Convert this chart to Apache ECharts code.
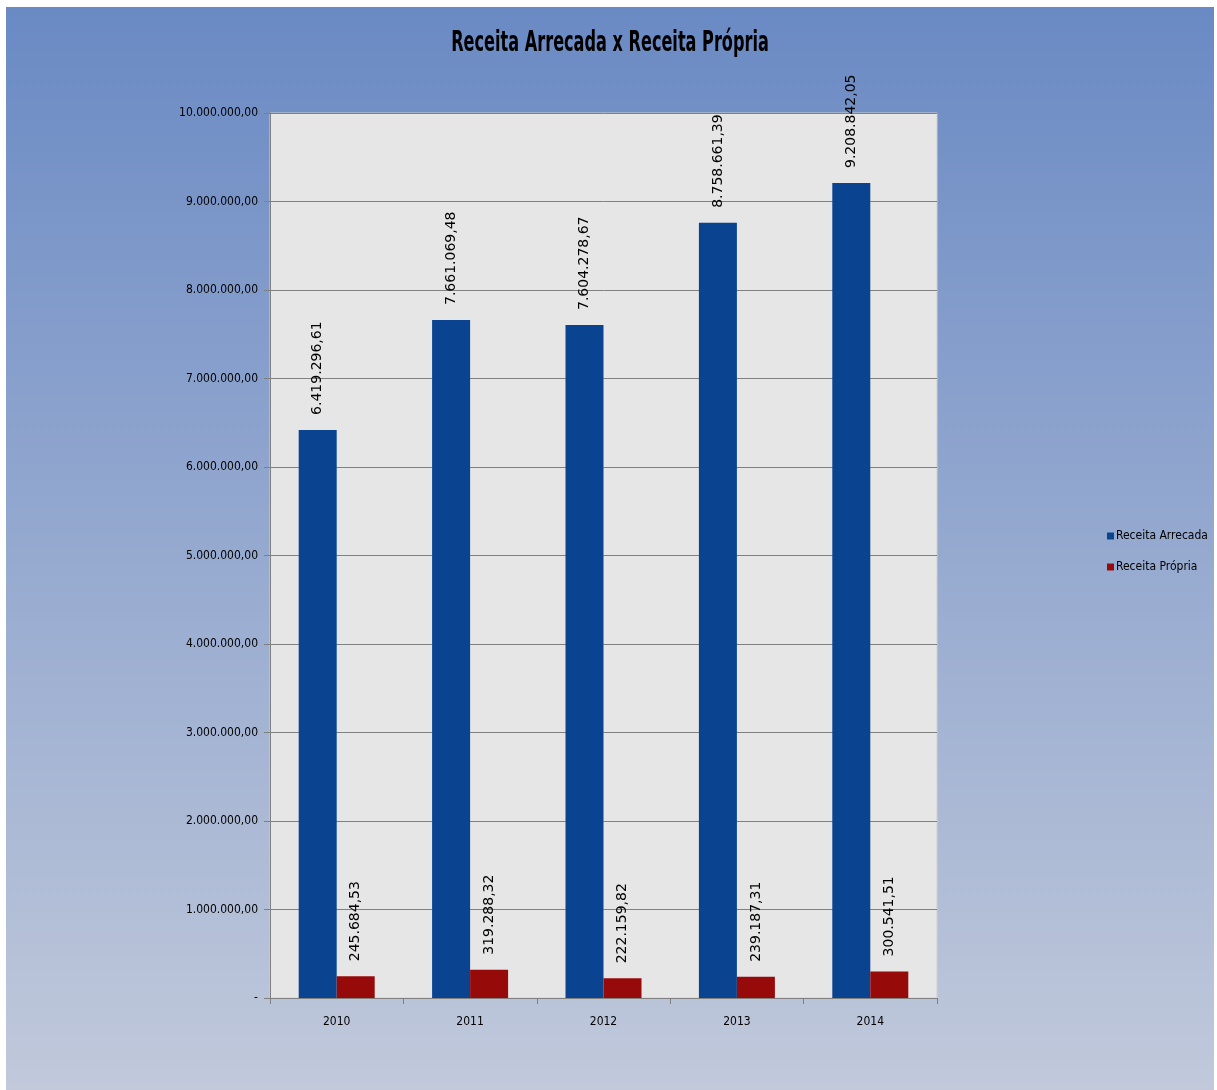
<!DOCTYPE html>
<html>
<head>
<meta charset="utf-8">
<script src="https://cdn.jsdelivr.net/npm/echarts@6/dist/echarts.min.js"></script>
<style>
    body { margin: 0; background: #ffffff; }
    #chart {
        position: absolute;
        left: 6px;
        top: 7px;
        width: 1208px;
        height: 1083px;
    }
</style>
</head>
<body>
<div id="chart"></div>
<script>
    // dados
    var titulo = 'Receita Arrecada x Receita Própria';
    var anos = ['2010', '2011', '2012', '2013', '2014'];
    var receitaArrecada = [6419296.61, 7661069.48, 7604278.67, 8758661.39, 9208842.05];
    var receitaPropria = [245684.53, 319288.32, 222159.82, 239187.31, 300541.51];
    var yMin = 0, yMax = 10000000, yStep = 1000000;

    var fonteNarrow = '"DejaVu Sans Condensed", "Liberation Sans Narrow", sans-serif';

    function formatBR(v) {
        var parts = Number(v).toFixed(2).split('.');
        parts[0] = parts[0].replace(/\B(?=(\d{3})+(?!\d))/g, '.');
        return parts[0] + ',' + parts[1];
    }

    var chart = echarts.init(document.getElementById('chart'));

    var rotulo = {
        show: true,
        position: 'top',
        rotate: 90,
        align: 'left',
        verticalAlign: 'middle',
        distance: 15,
        fontFamily: '"DejaVu Sans", Verdana, sans-serif',
        fontSize: 14,
        color: '#000000',
        formatter: function (p) { return formatBR(p.value); }
    };

    var option = {
        backgroundColor: new echarts.graphic.LinearGradient(0, 0, 0, 1, [
            { offset: 0, color: '#6a8ac4' },
            { offset: 1, color: '#c1c9db' }
        ]),
        // título estreito (fonte condensada, como no original)
        graphic: [{
            type: 'text',
            x: 604,
            y: 37,
            scaleX: 0.64,
            style: {
                text: titulo,
                fontFamily: fonteNarrow,
                fontSize: 28,
                fontWeight: 'bold',
                fill: '#000000',
                textAlign: 'center',
                textVerticalAlign: 'middle'
            }
        }],
        legend: {
            orient: 'vertical',
            left: 1096,
            top: 518,
            itemWidth: 7,
            itemHeight: 7,
            itemGap: 19,
            icon: 'rect',
            textStyle: {
                fontFamily: fonteNarrow,
                fontSize: 12,
                color: '#000000',
                padding: [0, 0, 0, -3]
            }
        },
        grid: {
            left: 264,
            right: 277,
            top: 106,
            bottom: 92,
            show: true,
            backgroundColor: '#e6e6e6',
            borderColor: '#d0d0d0',
            borderWidth: 1
        },
        xAxis: {
            type: 'category',
            data: anos,
            axisLine: { lineStyle: { color: '#808080', width: 1 } },
            axisTick: { show: true, length: 6, lineStyle: { color: '#808080' } },
            axisLabel: {
                margin: 18,
                fontFamily: fonteNarrow,
                fontSize: 12,
                color: '#000000'
            }
        },
        yAxis: {
            type: 'value',
            min: yMin,
            max: yMax,
            interval: yStep,
            axisLine: { show: true, lineStyle: { color: '#808080' } },
            axisTick: { show: true, length: 6, lineStyle: { color: '#808080' } },
            splitLine: { lineStyle: { color: '#808080', width: 1 } },
            axisLabel: {
                margin: 12,
                fontFamily: fonteNarrow,
                fontSize: 12,
                color: '#000000',
                formatter: function (v) { return v === 0 ? '-' : formatBR(v); }
            }
        },
        series: [{
            name: 'Receita Arrecada',
            type: 'bar',
            data: receitaArrecada,
            barWidth: 38,
            barGap: '0%',
            itemStyle: { color: '#0a4491' },
            label: rotulo
        }, {
            name: 'Receita Própria',
            type: 'bar',
            data: receitaPropria,
            barWidth: 38,
            barGap: '0%',
            itemStyle: { color: '#970a0a' },
            label: rotulo
        }]
    };

    chart.setOption(option);
</script>
</body>
</html>
